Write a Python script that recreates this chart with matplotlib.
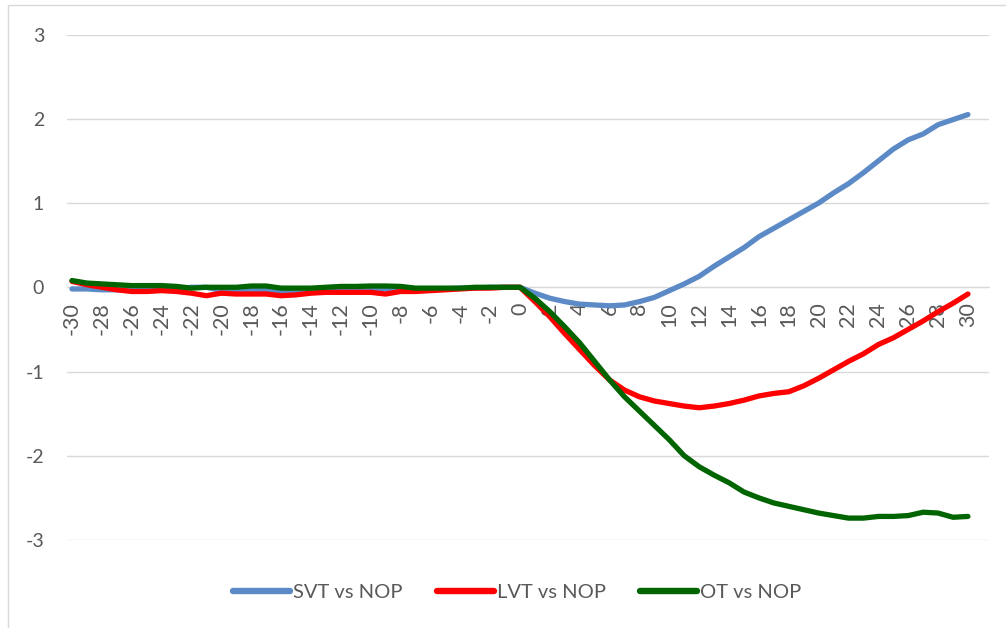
import matplotlib
matplotlib.use("Agg")
import matplotlib.pyplot as plt
from matplotlib.patches import Rectangle

plt.rcParams['font.family'] = ['Lato', 'DejaVu Sans']

x = list(range(-30, 31))

svt = [-0.02, -0.02, -0.03, -0.03, -0.03, -0.02, -0.02, -0.02, 0.00, 0.00,
       -0.04, -0.05, -0.04, -0.03, -0.05, -0.06, -0.05, -0.04, -0.03, -0.03,
       -0.02, -0.02, -0.03, -0.03, -0.02, -0.02, -0.01, -0.01, 0.00, 0.00,
       0.00,
       -0.07, -0.13, -0.17, -0.20, -0.21, -0.22, -0.21, -0.17, -0.12, -0.04,
       0.04, 0.13, 0.25, 0.36, 0.47, 0.60, 0.70, 0.80, 0.90, 1.00,
       1.12, 1.23, 1.36, 1.50, 1.64, 1.75, 1.82, 1.93, 1.99, 2.05]

lvt = [0.07, 0.03, 0.00, -0.03, -0.05, -0.05, -0.04, -0.05, -0.07, -0.10,
       -0.07, -0.08, -0.08, -0.08, -0.10, -0.09, -0.07, -0.06, -0.06, -0.06,
       -0.06, -0.08, -0.05, -0.05, -0.04, -0.03, -0.02, -0.01, -0.01, 0.00,
       0.00,
       -0.17, -0.35, -0.55, -0.74, -0.93, -1.10, -1.22, -1.30, -1.35, -1.38,
       -1.41, -1.43, -1.41, -1.38, -1.34, -1.29, -1.26, -1.24, -1.17, -1.08,
       -0.98, -0.88, -0.79, -0.68, -0.60, -0.50, -0.40, -0.29, -0.19, -0.08]

ot = [0.08, 0.05, 0.04, 0.03, 0.02, 0.02, 0.02, 0.01, -0.01, 0.00,
      0.00, 0.00, 0.015, 0.015, -0.01, -0.01, -0.01, 0.00, 0.01, 0.01,
      0.015, 0.015, 0.01, -0.01, -0.01, -0.01, -0.01, 0.00, 0.00, 0.00,
      0.00,
      -0.13, -0.29, -0.47, -0.66, -0.88, -1.10, -1.30, -1.47, -1.64, -1.81,
      -2.00, -2.13, -2.23, -2.32, -2.43, -2.50, -2.56, -2.60, -2.64, -2.68,
      -2.71, -2.74, -2.74, -2.72, -2.72, -2.71, -2.67, -2.68, -2.73, -2.72]

series_names = ["SVT vs NOP", "LVT vs NOP", "OT vs NOP"]
colors = ["#5B8AC6", "#FF0000", "#006400"]
xtick_vals = list(range(-30, 31, 2))
ytick_vals = list(range(-3, 4))

fig = plt.figure(figsize=(10.06, 6.28), dpi=100)
ax = fig.add_axes([0.0666, 0.1401, 0.9165, 0.8049])

for s in ['top', 'right', 'left']:
    ax.spines[s].set_visible(False)
ax.spines['bottom'].set_position(('data', 0))
ax.spines['bottom'].set_color('#D9D9D9')
ax.spines['bottom'].set_zorder(0.5)

for vals, name, c in zip([svt, lvt, ot], series_names, colors):
    ax.plot(x, vals, color=c, lw=3.8, label=name, solid_capstyle='round',
            solid_joinstyle='round', clip_on=False)

ax.set_xlim(-30.335, 31.41)
ax.set_ylim(-3, 3)
ax.set_yticks(ytick_vals)
ax.set_yticklabels([str(v) for v in ytick_vals])
ax.set_xticks(xtick_vals)
ax.set_xticklabels([str(v) for v in xtick_vals])

ax.grid(axis='y', color='#D9D9D9', lw=1.0)
ax.set_axisbelow(True)
ax.tick_params(axis='x', length=0, pad=11, labelsize=15.5, labelcolor='#595959',
               labelrotation=90)
ax.tick_params(axis='y', length=0, pad=16.5, labelsize=14, labelcolor='#595959')

leg = fig.legend(loc='center', bbox_to_anchor=(0.5144, 0.0573), ncol=3, frameon=False,
                 fontsize=14.5, handlelength=2.83, columnspacing=1.7, handletextpad=0.15)
for t in leg.get_texts():
    t.set_color('#595959')
for h in leg.get_lines():
    h.set_linewidth(4.6)

fig.patches.append(Rectangle((8 / 1006, -0.05), 1.2, 1 - 5 / 628 + 0.05,
                             transform=fig.transFigure, fill=False,
                             edgecolor='#D9D9D9', lw=1.0))

fig.savefig("out.png", dpi=100)
